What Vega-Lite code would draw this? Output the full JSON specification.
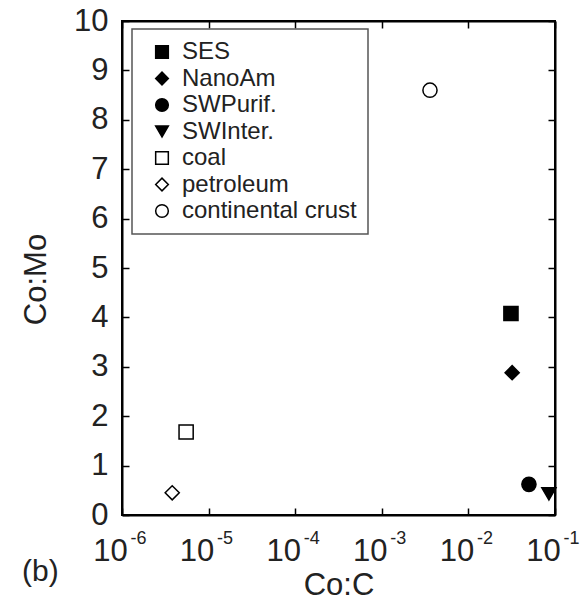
{
  "$schema": "https://vega.github.io/schema/vega-lite/v6.json",
  "width": 433,
  "height": 494,
  "autosize": {"type": "none"},
  "padding": {"left": 122, "top": 21, "right": 33, "bottom": 85},
  "background": "white",
  "title": {"text": "(b)", "orient": "bottom", "anchor": "start", "frame": "group", "dx": -100, "dy": -47, "fontSize": 30, "fontWeight": "normal", "font": "Liberation Sans", "color": "#222"},
  "config": {
    "font": "Liberation Sans",
    "view": {"stroke": "black", "strokeWidth": 2},
    "axis": {
      "grid": false,
      "domainColor": "black",
      "domainWidth": 2,
      "tickColor": "black",
      "tickWidth": 1.5,
      "tickSize": -7,
      "labelFont": "Liberation Sans",
      "labelFontSize": 31,
      "labelColor": "#222",
      "titleFont": "Liberation Sans",
      "titleFontSize": 31,
      "titleFontWeight": "normal",
      "titleColor": "#222"
    },
    "legend": {
      "orient": "none",
      "legendX": 10,
      "legendY": 8,
      "strokeColor": "#555",
      "strokeWidth": 1.5,
      "padding": 11,
      "labelFont": "Liberation Sans",
      "labelFontSize": 24,
      "labelColor": "#222",
      "labelOffset": 8,
      "labelLimit": 0,
      "symbolOffset": 7,
      "symbolSize": 160,
      "symbolStrokeWidth": 1.5,
      "rowPadding": 2.5
    }
  },
  "data": {
    "values": [
      {"name": "SES", "coc": 0.031, "como": 4.08},
      {"name": "NanoAm", "coc": 0.032, "como": 2.88},
      {"name": "SWPurif.", "coc": 0.05, "como": 0.62},
      {"name": "SWInter.", "coc": 0.085, "como": 0.43},
      {"name": "coal", "coc": 0.0000055, "como": 1.68},
      {"name": "petroleum", "coc": 0.0000038, "como": 0.45},
      {"name": "continental crust", "coc": 0.0036, "como": 8.6}
    ]
  },
  "layer": [
    {
      "mark": {"type": "point", "filled": false, "strokeWidth": 1.5, "size": 200, "opacity": 1},
      "encoding": {
        "x": {
          "field": "coc", "type": "quantitative",
          "scale": {"type": "log", "domain": [0.000001, 0.1], "nice": false},
          "axis": {
            "orient": "bottom", "title": "Co:C", "values": [0.000001, 0.00001, 0.0001, 0.001, 0.01, 0.1],
            "labelExpr": "'10'",
            "labelBaseline": "alphabetic", "labelPadding": 52, "labelOffset": -12,
            "titleBaseline": "alphabetic", "titleY": 79,
            "labelFlush": false, "labelOverlap": false
          }
        },
        "y": {
          "field": "como", "type": "quantitative",
          "scale": {"domain": [0, 10], "nice": false, "zero": true},
          "axis": {"orient": "left", "title": "Co:Mo", "values": [0,1,2,3,4,5,6,7,8,9,10], "labelPadding": 21, "titleBaseline": "alphabetic", "titleX": -77, "titleY": 258, "labelFlush": false, "labelOverlap": false}
        },
        "shape": {
          "field": "name", "type": "nominal",
          "scale": {"domain": ["SES", "NanoAm", "SWPurif.", "SWInter.", "coal", "petroleum", "continental crust"],
                    "range": ["square", "diamond", "circle", "triangle-down", "square", "diamond", "circle"]},
          "legend": {"title": null}
        },
        "fill": {
          "field": "name", "type": "nominal",
          "scale": {"domain": ["SES", "NanoAm", "SWPurif.", "SWInter.", "coal", "petroleum", "continental crust"],
                    "range": ["black", "black", "black", "black", "white", "white", "white"]},
          "legend": {"title": null}
        },
        "stroke": {
          "field": "name", "type": "nominal",
          "scale": {"domain": ["SES", "NanoAm", "SWPurif.", "SWInter.", "coal", "petroleum", "continental crust"],
                    "range": ["black", "black", "black", "black", "black", "black", "black"]},
          "legend": {"title": null}
        }
      }
    },
    {
      "mark": {"type": "point", "opacity": 0},
      "encoding": {
        "x": {
          "field": "coc", "type": "quantitative",
          "scale": {"type": "log", "domain": [0.000001, 0.1], "nice": false},
          "axis": {
            "orient": "top", "title": null, "values": [0.000001, 0.00001, 0.0001, 0.001, 0.01, 0.1],
            "labelExpr": "'-' + round(-log(datum.value)/LN10)",
            "labelFontSize": 18, "labelBaseline": "alphabetic", "labelPadding": -515, "labelOffset": 16,
            "labelFlush": false, "labelOverlap": false
          }
        },
        "y": {
          "field": "como", "type": "quantitative",
          "scale": {"domain": [0, 10], "nice": false},
          "axis": {"orient": "right", "title": null, "labels": false, "values": [0,1,2,3,4,5,6,7,8,9,10]}
        }
      }
    }
  ],
  "resolve": {"axis": {"x": "independent", "y": "independent"}}
}
